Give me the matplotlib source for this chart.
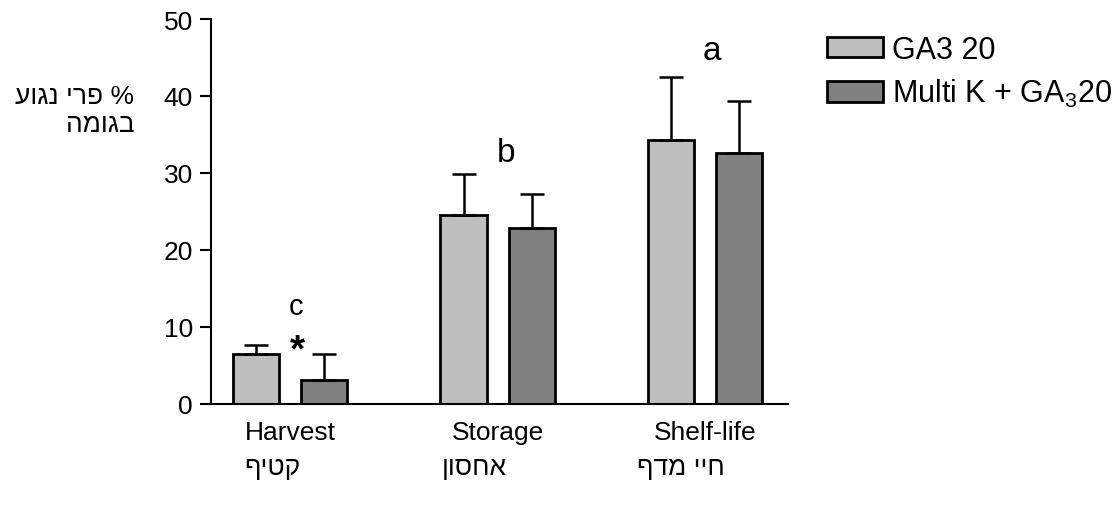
import numpy as np
import matplotlib
matplotlib.use("Agg")
import matplotlib.pyplot as plt

plt.rcParams["font.family"] = ["Liberation Sans", "DejaVu Sans"]
plt.rcParams["mathtext.fontset"] = "custom"
plt.rcParams["mathtext.rm"] = "Liberation Sans"
plt.rcParams["mathtext.it"] = "Liberation Sans"

# Data
stages = ["Harvest", "Storage", "Shelf-life"]
# Hebrew labels stored in visual (left-to-right) order, matplotlib has no bidi
stages_he = ["ףיטק", "ןוסחא", "ףדמ ייח"]
ga3_mean = [6.4, 24.5, 34.3]
ga3_err = [1.2, 5.3, 8.2]
multik_mean = [3.0, 22.8, 32.6]
multik_err = [3.4, 4.4, 6.8]
series_labels = ["GA3 20", r"Multi K + GA$_3$20"]
letters = ["c", "b", "a"]
ylabel_he = "עוגנ ירפ %\nהמוגב"

LIGHT = "#bebebe"
DARK = "#808080"
FS = 19

fig = plt.figure(figsize=(11.2, 5.06), dpi=100)
ax = fig.add_axes([211 / 1120, 1 - 404.5 / 506, (788 - 211) / 1120, (404.5 - 20) / 506])

x = np.arange(len(stages))
w = 0.222
off = 0.164

ax.bar(x - off, ga3_mean, w, color=LIGHT, edgecolor="black", linewidth=2,
       yerr=[np.zeros(3), ga3_err], capsize=8.5,
       error_kw=dict(elinewidth=1.8, capthick=1.8, ecolor="black"),
       label=series_labels[0], zorder=2)
ax.bar(x + off, multik_mean, w, color=DARK, edgecolor="black", linewidth=2,
       yerr=[np.zeros(3), multik_err], capsize=8.5,
       error_kw=dict(elinewidth=1.8, capthick=1.8, ecolor="black"),
       label=series_labels[1], zorder=2)

ax.set_xlim(-0.381, 2.40)
ax.set_ylim(0, 50)
ax.set_yticks(np.arange(0, 51, 10))
ax.set_xticks(x)
ax.set_xticklabels(stages)
ax.tick_params(axis="y", length=8, width=1.5, pad=5, labelsize=FS)
ax.tick_params(axis="x", length=0, pad=12, labelsize=FS)
for s in ["top", "right"]:
    ax.spines[s].set_visible(False)
for s in ["left", "bottom"]:
    ax.spines[s].set_linewidth(1.5)

# significance letters (baseline placed)
letter_pos = [(0.029, 11.6), (1.043, 31.5), (2.031, 44.8)]
letter_fs = [21, 24, 24]
for (lx, ly), t, lfs in zip(letter_pos, letters, letter_fs):
    ax.text(lx, ly, t, ha="center", va="baseline", fontsize=lfs)
ax.text(0.034, 6.9, "*", ha="center", va="center", fontsize=28, fontweight="bold")

# Hebrew category labels below
he_x = [272, 474, 681]
for hx, t in zip(he_x, stages_he):
    fig.text(hx / 1120, 1 - 468 / 506, t, ha="center", va="center", fontsize=FS)

# Hebrew y label
fig.text(134 / 1120, 1 - 111 / 506, ylabel_he, ha="right", va="center",
         fontsize=FS, linespacing=1.2, multialignment="right")

leg = ax.legend(loc="upper left", bbox_to_anchor=(827 / 1120, 1 - 36 / 506),
                bbox_transform=fig.transFigure, frameon=False, fontsize=22,
                handlelength=1.83, handleheight=0.65, handletextpad=0.3,
                labelspacing=0.4, borderpad=0, borderaxespad=0)

fig.savefig("out.png", dpi=100)
